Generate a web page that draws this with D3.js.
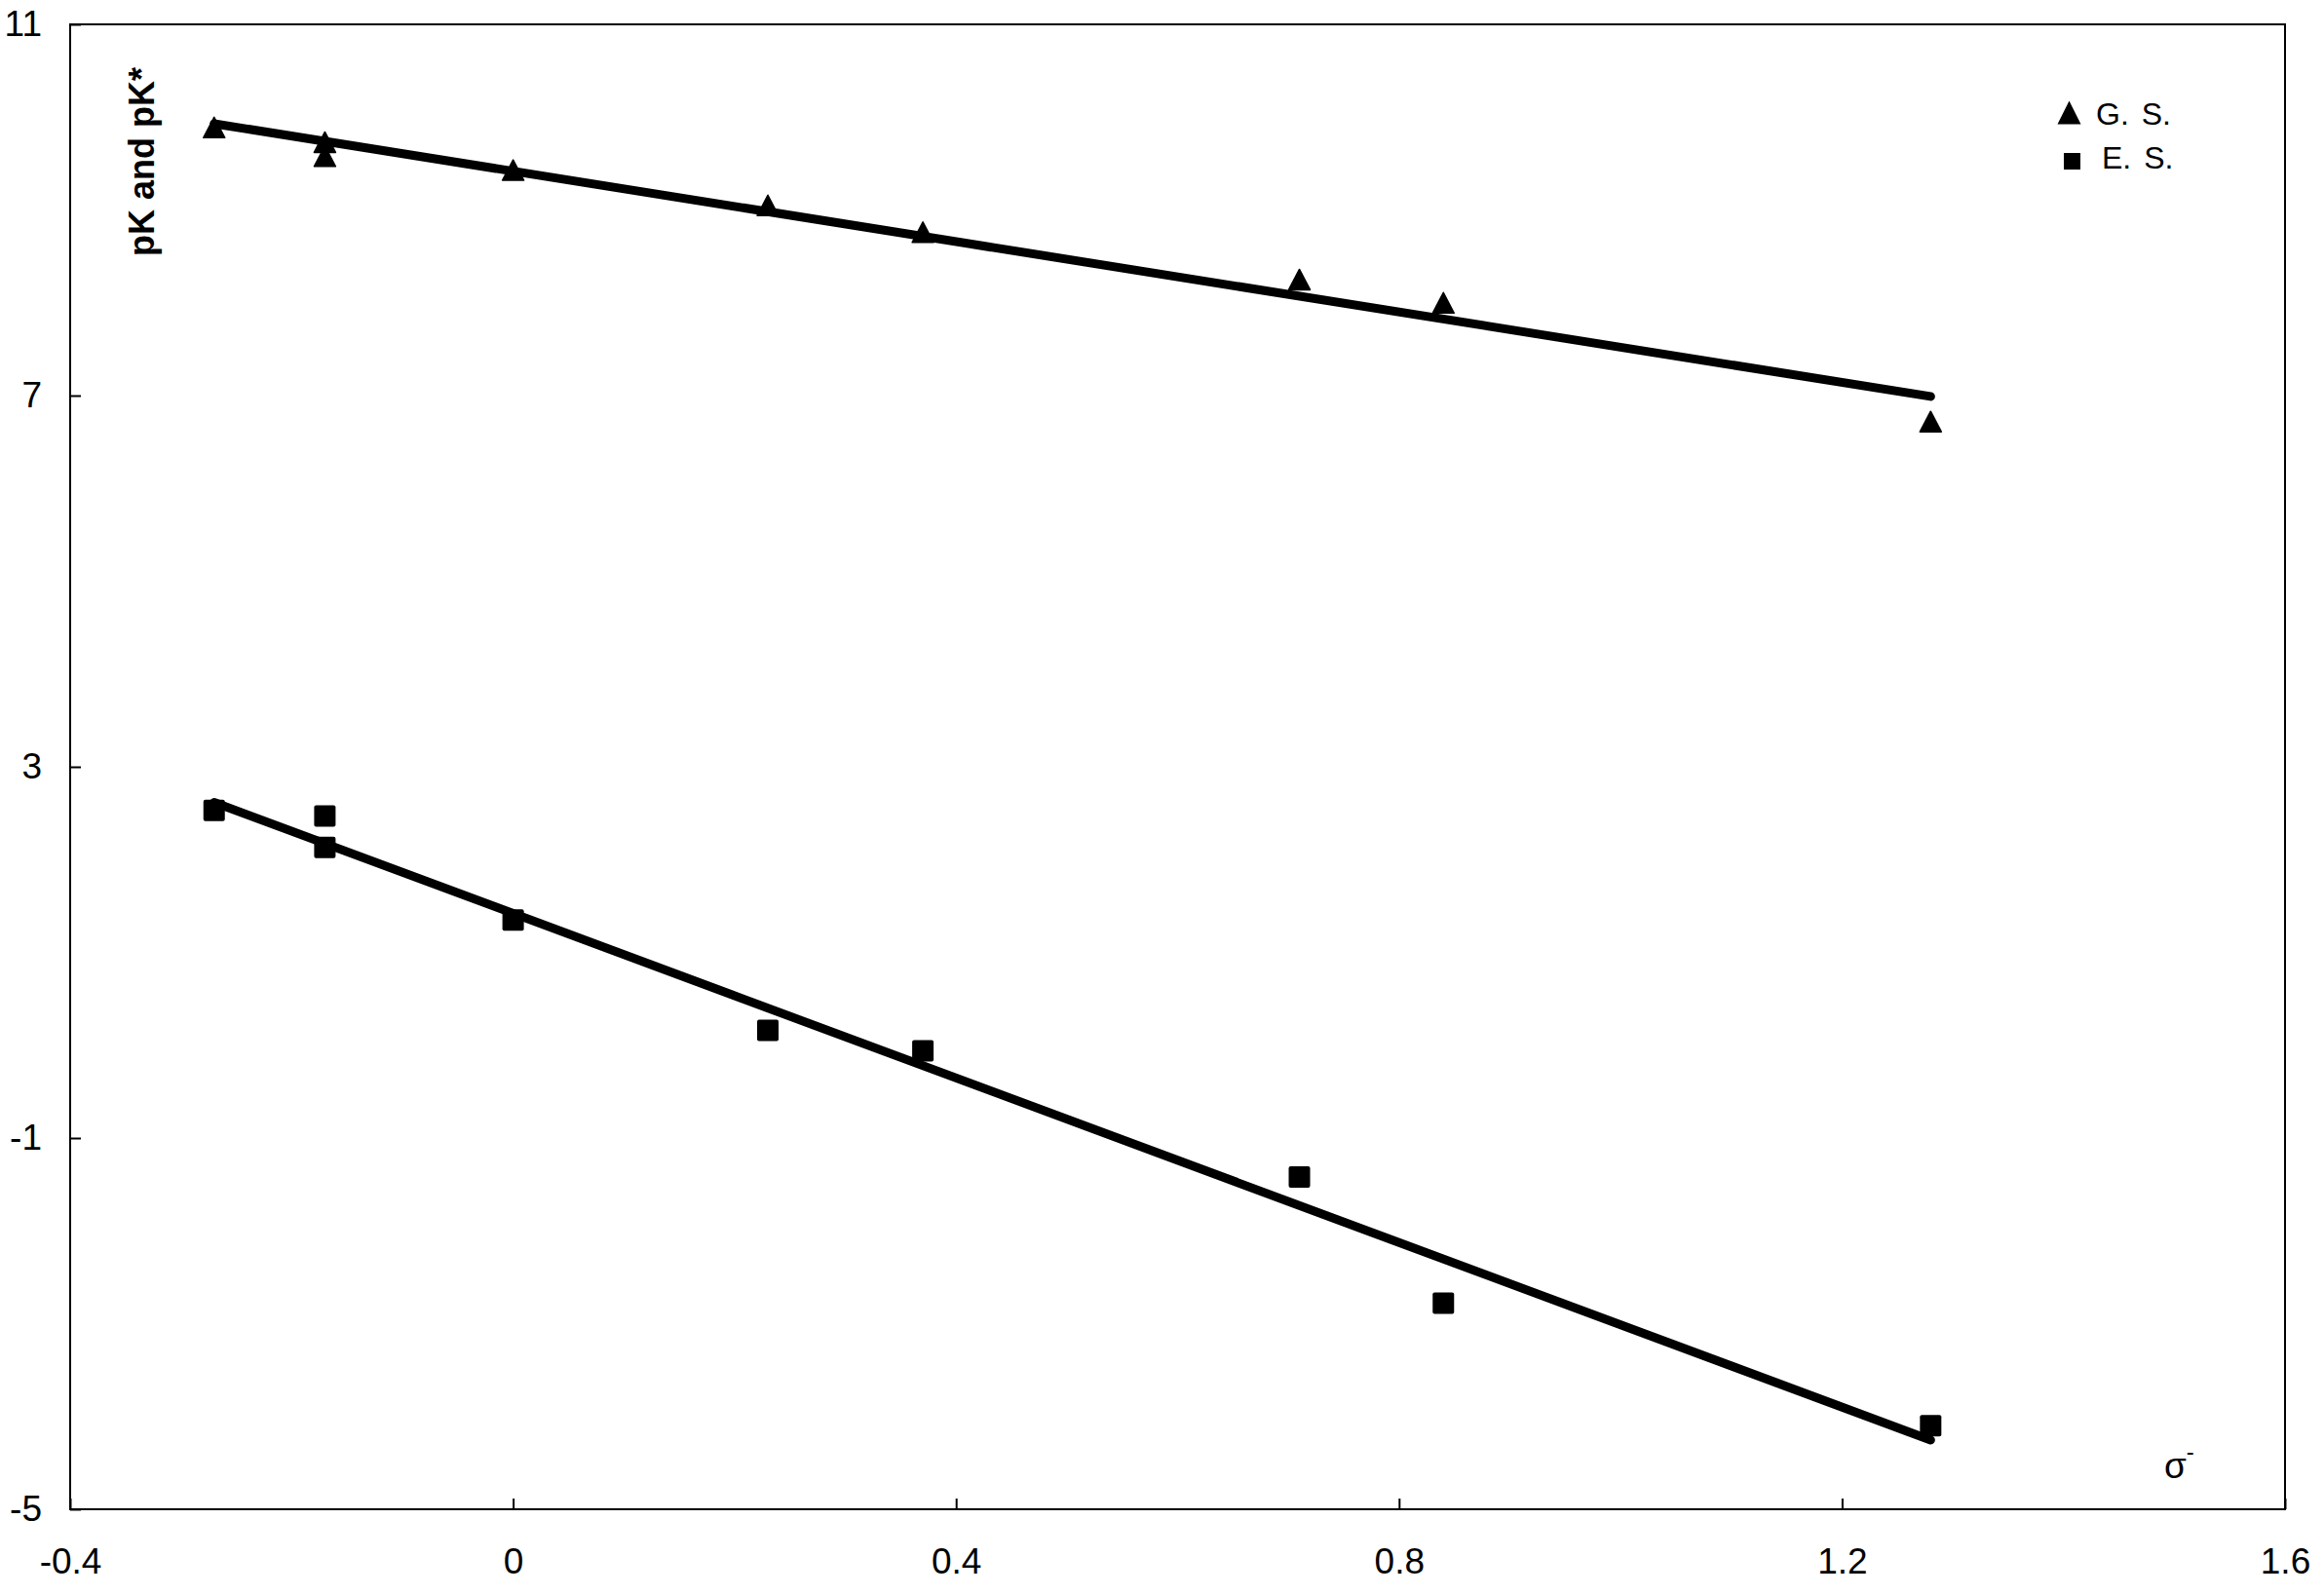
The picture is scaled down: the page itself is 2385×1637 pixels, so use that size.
<!doctype html>
<html lang="en">
<head>
    <meta charset="UTF-8">
    <title>pK and pK* vs sigma</title>
    <style>
        body { margin: 0; background: #fff; }
        svg text { font-family: "Liberation Sans", Arial, sans-serif; fill: #000; }
    </style>
</head>
<body>
<svg id="chart" width="2385" height="1637"></svg>
<script src="https://d3js.org/d3.v7.min.js"></script>
<script>
    // substituent constants (sigma minus) and measured values
    let sigma = [-0.27, -0.17, -0.17, 0, 0.23, 0.37, 0.71, 0.84, 1.28];
    let pkGround = [9.89, 9.73, 9.58, 9.43, 9.05, 8.76, 8.25, 8.00, 6.72];
    let pkExcited = [2.53, 2.47, 2.13, 1.35, 0.16, -0.06, -1.42, -2.78, -4.10];

    let xTicks = [-0.4, 0, 0.4, 0.8, 1.2, 1.6];
    let yTicks = [-5, -1, 3, 7, 11];
    let seriesNames = ["G. S.", "E. S."];

    let svg = d3.select("#chart"),
        margin = {top: 25, right: 40, bottom: 88, left: 72},
        width = +svg.attr("width"),
        height = +svg.attr("height");

    let x = d3.scaleLinear()
        .domain([-0.4, 1.6])
        .range([margin.left, width - margin.right]);

    let y = d3.scaleLinear()
        .domain([-5, 11])
        .range([height - margin.bottom, margin.top]);

    // least squares trend line over the data range
    function fit(xs, ys) {
        let mx = d3.mean(xs), my = d3.mean(ys);
        let sxy = d3.sum(xs, (v, i) => (v - mx) * (ys[i] - my));
        let sxx = d3.sum(xs, v => (v - mx) * (v - mx));
        let b = sxy / sxx, a = my - b * mx;
        let lo = d3.min(xs), hi = d3.max(xs);
        return [[lo, a + b * lo], [hi, a + b * hi]];
    }

    let line = d3.line()
        .x(d => x(d[0]))
        .y(d => y(d[1]));

    svg.append("g")
        .selectAll("path")
        .data([fit(sigma, pkGround), fit(sigma, pkExcited)])
        .enter().append("path")
        .attr("d", line)
        .attr("fill", "none")
        .attr("stroke", "#000")
        .attr("stroke-width", 9)
        .attr("stroke-linecap", "round");

    // axes
    let fmt = d => String(d);

    let gx = svg.append("g")
        .attr("transform", "translate(0," + (height - margin.bottom) + ")")
        .call(d3.axisBottom(x).tickValues(xTicks).tickFormat(fmt)
            .tickSizeInner(-11).tickSizeOuter(0).tickPadding(40));
    gx.select(".domain").remove();
    gx.selectAll("line").attr("stroke-width", 2);
    gx.selectAll("text").attr("font-size", "37px").attr("font-family", null);

    let gy = svg.append("g")
        .attr("transform", "translate(" + margin.left + ",0)")
        .call(d3.axisLeft(y).tickValues(yTicks).tickFormat(fmt)
            .tickSizeInner(-11).tickSizeOuter(0).tickPadding(29));
    gy.select(".domain").remove();
    gy.selectAll("line").attr("stroke-width", 2);
    gy.selectAll("text").attr("font-size", "37px").attr("font-family", null);

    // plot frame
    svg.append("rect")
        .attr("x", margin.left)
        .attr("y", margin.top)
        .attr("width", width - margin.left - margin.right)
        .attr("height", height - margin.top - margin.bottom)
        .attr("fill", "none")
        .attr("stroke", "#000")
        .attr("stroke-width", 2);

    // markers
    function triangle(cx, cy, w, h) {
        return "M" + cx + "," + (cy - h / 2) +
            "L" + (cx + w / 2) + "," + (cy + h / 2) +
            "L" + (cx - w / 2) + "," + (cy + h / 2) + "Z";
    }

    svg.append("g")
        .selectAll("path")
        .data(sigma)
        .enter().append("path")
        .attr("d", (d, i) => triangle(x(d), y(pkGround[i]), 22, 21))
        .attr("fill", "#000")
        .attr("stroke", "#000")
        .attr("stroke-width", 1.5)
        .attr("stroke-linejoin", "round");

    svg.append("g")
        .selectAll("rect")
        .data(sigma)
        .enter().append("rect")
        .attr("x", d => x(d) - 11)
        .attr("y", (d, i) => y(pkExcited[i]) - 11)
        .attr("width", 22)
        .attr("height", 22)
        .attr("rx", 2)
        .attr("fill", "#000");

    // axis titles
    svg.append("text")
        .attr("transform", "translate(158,166) rotate(-90)")
        .attr("text-anchor", "middle")
        .attr("font-size", "36px")
        .attr("font-weight", "bold")
        .text("pK and pK*");

    let sx = svg.append("text")
        .attr("x", 2221)
        .attr("y", 1517)
        .attr("font-size", "37px");
    sx.append("tspan").text("σ");
    sx.append("tspan").attr("font-size", "24px").attr("dy", -19).text("-");

    // legend
    let legend = svg.append("g");
    legend.append("path")
        .attr("d", triangle(2123.5, 115.5, 24, 24))
        .attr("fill", "#000");
    legend.append("rect")
        .attr("x", 2118)
        .attr("y", 157)
        .attr("width", 17)
        .attr("height", 17)
        .attr("fill", "#000");
    legend.selectAll("text")
        .data(seriesNames)
        .enter().append("text")
        .attr("x", (d, i) => i === 0 ? 2151 : 2157)
        .attr("y", (d, i) => 128 + i * 45)
        .attr("font-size", "32px")
        .attr("word-spacing", "4px")
        .text(d => d);
</script>
</body>
</html>
